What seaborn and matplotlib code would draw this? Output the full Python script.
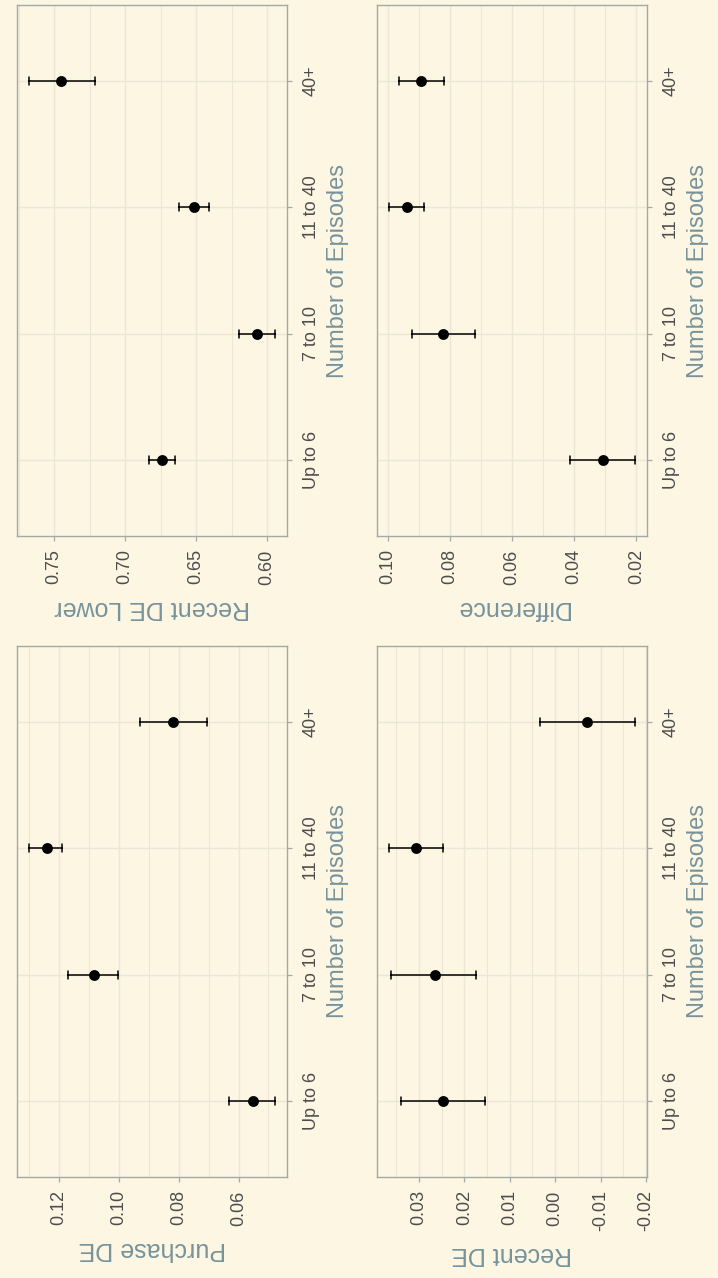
import numpy as np
import pandas as pd
import matplotlib
matplotlib.use("Agg")
import matplotlib.pyplot as plt
from matplotlib.ticker import MultipleLocator, FormatStrFormatter
import seaborn as sns

# values (estimate, lower CI, upper CI)
categories = ["Up to 6", "7 to 10", "11 to 40", "40+"]

purchase_de = [0.0553, 0.1085, 0.1241, 0.0819]
purchase_lo = [0.0479, 0.1002, 0.1189, 0.0706]
purchase_hi = [0.0631, 0.1172, 0.1300, 0.0930]

recent_lower = [0.6740, 0.6073, 0.6512, 0.7453]
recent_lower_lo = [0.6649, 0.5946, 0.6407, 0.7213]
recent_lower_hi = [0.6830, 0.6200, 0.6618, 0.7676]

recent_de = [0.0247, 0.0265, 0.0307, -0.0070]
recent_de_lo = [0.0154, 0.0174, 0.0247, -0.0175]
recent_de_hi = [0.0340, 0.0361, 0.0365, 0.0033]

difference = [0.0307, 0.0824, 0.0939, 0.0893]
difference_lo = [0.0205, 0.0721, 0.0885, 0.0819]
difference_hi = [0.0412, 0.0923, 0.0996, 0.0966]

BG = "#fdf6e3"
GRID = "#ece6d5"
BORDER = "#a3aaa6"
TICK_TXT = "#4d4d4d"
TITLE_TXT = "#76939c"

sns.set_theme(style="white", rc={
    "axes.facecolor": BG,
    "figure.facecolor": BG,
    "axes.edgecolor": BORDER,
    "axes.linewidth": 1.0,
    "axes.unicode_minus": False,
})
plt.rcParams["font.family"] = ["Liberation Sans", "DejaVu Sans"]

W, H = 718, 1278
fig = plt.figure(figsize=(W / 100, H / 100), dpi=100)


def box(x0, y0, x1, y1):
    return [x0 / W, 1 - y1 / H, (x1 - x0) / W, (y1 - y0) / H]


panels = [
    ("Recent DE Lower", recent_lower, recent_lower_lo, recent_lower_hi, 0.05, box(17, 5, 287, 536)),
    ("Purchase DE", purchase_de, purchase_lo, purchase_hi, 0.02, box(17, 646, 287, 1177)),
    ("Difference", difference, difference_lo, difference_hi, 0.02, box(377, 5, 647, 536)),
    ("Recent DE", recent_de, recent_de_lo, recent_de_hi, 0.01, box(377, 646, 647, 1177)),
]

for label, est, lo, hi, step, pos in panels:
    ax = fig.add_axes(pos)
    # long-form: median of (lo, est, hi) is est, full range gives the interval
    df = pd.DataFrame({
        "episodes": np.repeat(categories, 3),
        "value": np.column_stack([lo, est, hi]).ravel(),
    })
    sns.pointplot(data=df, x="value", y="episodes", order=categories,
                  estimator="median", errorbar=("pi", 100), orient="h",
                  color="black", markers="o", linestyle="none",
                  markersize=5.8, capsize=0.065,
                  err_kws={"linewidth": 1.1}, ax=ax)

    # ggplot-like 5% expansion, value axis runs high -> low
    vmin, vmax = min(lo), max(hi)
    pad = 0.05 * (vmax - vmin)
    ax.set_xlim(vmax + pad, vmin - pad)
    ax.set_ylim(-0.6, len(categories) - 1 + 0.6)

    ax.xaxis.set_major_locator(MultipleLocator(step))
    ax.xaxis.set_minor_locator(MultipleLocator(step / 2))
    ax.xaxis.set_major_formatter(FormatStrFormatter("%.2f"))

    ax.set_axisbelow(True)
    ax.grid(True, which="major", axis="both", color=GRID, linewidth=1.0)
    ax.grid(True, which="minor", axis="x", color=GRID, linewidth=0.8)

    ax.yaxis.tick_right()
    ax.yaxis.set_label_position("right")
    ax.tick_params(axis="x", which="major", bottom=True, length=3.6, width=0.9,
                   color=BORDER, pad=6, labelsize=13, labelcolor=TICK_TXT,
                   labelrotation=90)
    ax.tick_params(axis="x", which="minor", bottom=False)
    ax.tick_params(axis="y", right=True, left=False, length=3.6, width=0.9,
                   color=BORDER, pad=8, labelsize=13, labelcolor=TICK_TXT,
                   labelrotation=90)
    for t in ax.get_yticklabels():
        t.set_verticalalignment("center")

    ax.set_xlabel(label, fontsize=18, color=TITLE_TXT, rotation=180, labelpad=8)
    ax.set_ylabel("Number of Episodes", fontsize=17, color=TITLE_TXT,
                  rotation=90, labelpad=5)
    for s in ax.spines.values():
        s.set_color(BORDER)

fig.savefig("out.png", dpi=100, facecolor=BG)
